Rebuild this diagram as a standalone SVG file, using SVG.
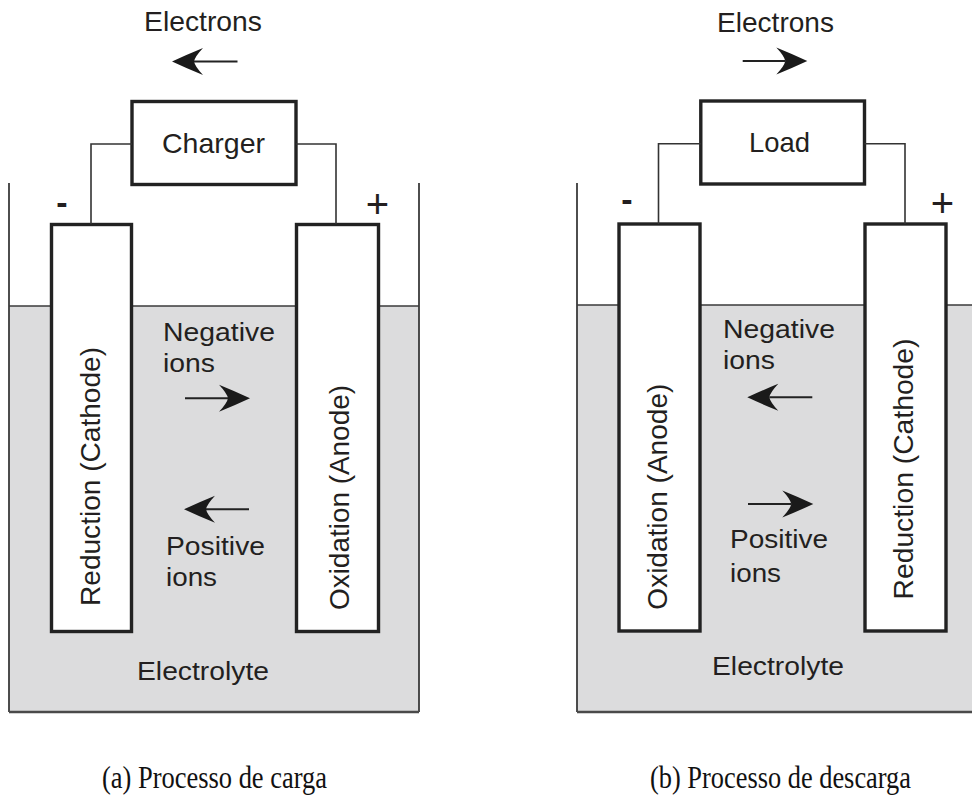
<svg xmlns="http://www.w3.org/2000/svg" width="972" height="802" viewBox="0 0 972 802">
<style>
.bg{fill:#ffffff}
.elyte{fill:#dcdcdd;stroke:none}
.surf{stroke:#3a3a3a;stroke-width:1.6;fill:none}
.wall{stroke:#3a3a3a;stroke-width:1.8;fill:none}
.bottom{stroke:#4a4a4a;stroke-width:2.6;fill:none}
.electrode{fill:#ffffff;stroke:#222222;stroke-width:3.4}
.box{fill:#ffffff;stroke:#222222;stroke-width:3.4}
.wire{stroke:#333333;stroke-width:1.6;fill:none}
.shaft{stroke:#222222;stroke-width:2}
.head{fill:#1a1a1a}
.t{font-family:"Liberation Sans",Arial,sans-serif;fill:#231f20}
.big{font-size:28px}
.mid{font-size:25.5px}
.sign{font-family:"Liberation Sans",Arial,sans-serif;fill:#231f20}
.cap{font-family:"Liberation Serif","Times New Roman",serif;font-size:32px;fill:#111111}
</style>
<defs>
<path id="ah" d="M0,0 Q15,-7 31,-13.5 Q23,-5 22,0 Q23,5 31,13.5 Q15,7 0,0 Z"/>
</defs>
<rect class="bg" x="0" y="0" width="972" height="802"/>

<!-- Panel (a) -->
<g id="container-a">
<rect class="elyte" x="9" y="306" width="410" height="406"/>
<line class="surf" x1="9" y1="306" x2="419" y2="306"/>
<path class="wall" d="M9,183 V712"/>
<path class="wall" d="M419,183 V712"/>
<path class="bottom" d="M9,712 H419"/>
<text class="t mid" x="137" y="680" textLength="132" lengthAdjust="spacingAndGlyphs">Electrolyte</text>
</g>
<g id="charger">
<rect class="box" x="132" y="101.5" width="164" height="83"/>
<text class="t big" x="162" y="153" textLength="103" lengthAdjust="spacingAndGlyphs">Charger</text>
</g>
<g id="cathode-a">
<rect class="electrode" x="51.5" y="224.5" width="80" height="407"/>
<text class="t big" transform="translate(100,476.5) rotate(-90)" text-anchor="middle" textLength="259" lengthAdjust="spacingAndGlyphs">Reduction (Cathode)</text>
</g>
<g id="anode-a">
<rect class="electrode" x="296.5" y="224.5" width="82" height="407"/>
<text class="t big" transform="translate(348.5,497.5) rotate(-90)" text-anchor="middle" textLength="225" lengthAdjust="spacingAndGlyphs">Oxidation (Anode)</text>
</g>
<g id="labels-a">
<text class="t big" x="144" y="31" textLength="118" lengthAdjust="spacingAndGlyphs">Electrons</text>
<text class="t mid" x="163" y="341" textLength="112" lengthAdjust="spacingAndGlyphs">Negative</text>
<text class="t mid" x="163" y="372" textLength="52" lengthAdjust="spacingAndGlyphs">ions</text>
<text class="t mid" x="166" y="555" textLength="99" lengthAdjust="spacingAndGlyphs">Positive</text>
<text class="t mid" x="166" y="586" textLength="51" lengthAdjust="spacingAndGlyphs">ions</text>
<text class="sign" x="62" y="214" font-size="34" font-weight="bold" text-anchor="middle">-</text>
<text class="sign" x="377.5" y="218" font-size="40" text-anchor="middle">+</text>
</g>

<!-- Panel (b) -->
<g id="container-b">
<rect class="elyte" x="577" y="305" width="400" height="407"/>
<line class="surf" x1="577" y1="305" x2="972" y2="305"/>
<path class="wall" d="M577,183 V712"/>
<path class="bottom" d="M577,712 H975"/>
<text class="t mid" x="712" y="675" textLength="132" lengthAdjust="spacingAndGlyphs">Electrolyte</text>
</g>
<g id="load">
<rect class="box" x="700.8" y="101" width="163.7" height="83"/>
<text class="t big" x="749" y="152" textLength="61" lengthAdjust="spacingAndGlyphs">Load</text>
</g>
<g id="anode-b">
<rect class="electrode" x="619" y="224" width="81" height="407"/>
<text class="t big" transform="translate(667.3,496.7) rotate(-90)" text-anchor="middle" textLength="226" lengthAdjust="spacingAndGlyphs">Oxidation (Anode)</text>
</g>
<g id="cathode-b">
<rect class="electrode" x="865" y="224" width="81" height="407"/>
<text class="t big" transform="translate(913.3,469) rotate(-90)" text-anchor="middle" textLength="261" lengthAdjust="spacingAndGlyphs">Reduction (Cathode)</text>
</g>
<g id="labels-b">
<text class="t big" x="717" y="31.5" textLength="117" lengthAdjust="spacingAndGlyphs">Electrons</text>
<text class="t mid" x="723" y="338" textLength="112" lengthAdjust="spacingAndGlyphs">Negative</text>
<text class="t mid" x="723" y="369" textLength="52" lengthAdjust="spacingAndGlyphs">ions</text>
<text class="t mid" x="730" y="548" textLength="98" lengthAdjust="spacingAndGlyphs">Positive</text>
<text class="t mid" x="730" y="582" textLength="51" lengthAdjust="spacingAndGlyphs">ions</text>
<text class="sign" x="627" y="211" font-size="34" font-weight="bold" text-anchor="middle">-</text>
<text class="sign" x="942.5" y="216.5" font-size="40" text-anchor="middle">+</text>
</g>

<!-- Connectors -->
<g id="connectors">
<path class="wire" d="M91,224 V144 H132"/>
<path class="wire" d="M296,144 H336 V224"/>
<path class="wire" d="M658.5,224 V143.7 H700.8"/>
<path class="wire" d="M864.5,143.7 H905 V224"/>

<!-- (a) electrons: left -->
<line class="shaft" x1="194" y1="61.5" x2="237.5" y2="61.5"/>
<use href="#ah" class="head" transform="translate(172,61.5)"/>
<!-- (a) negative ions: right -->
<line class="shaft" x1="185" y1="398.3" x2="228" y2="398.3"/>
<use href="#ah" class="head" transform="translate(250,398.3) scale(-1,1)"/>
<!-- (a) positive ions: left -->
<line class="shaft" x1="206" y1="509.3" x2="249" y2="509.3"/>
<use href="#ah" class="head" transform="translate(184,509.3)"/>

<!-- (b) electrons: right -->
<line class="shaft" x1="742.7" y1="61" x2="785.3" y2="61"/>
<use href="#ah" class="head" transform="translate(807.3,61) scale(-1,1)"/>
<!-- (b) negative ions: left -->
<line class="shaft" x1="769.3" y1="397.3" x2="812.3" y2="397.3"/>
<use href="#ah" class="head" transform="translate(747.3,397.3)"/>
<!-- (b) positive ions: right -->
<line class="shaft" x1="748" y1="504" x2="791.3" y2="504"/>
<use href="#ah" class="head" transform="translate(813.3,504) scale(-1,1)"/>
</g>

<!-- Captions -->
<text class="cap" x="102" y="788" textLength="225" lengthAdjust="spacingAndGlyphs">(a) Processo de carga</text>
<text class="cap" x="650" y="788" textLength="261" lengthAdjust="spacingAndGlyphs">(b) Processo de descarga</text>
</svg>
